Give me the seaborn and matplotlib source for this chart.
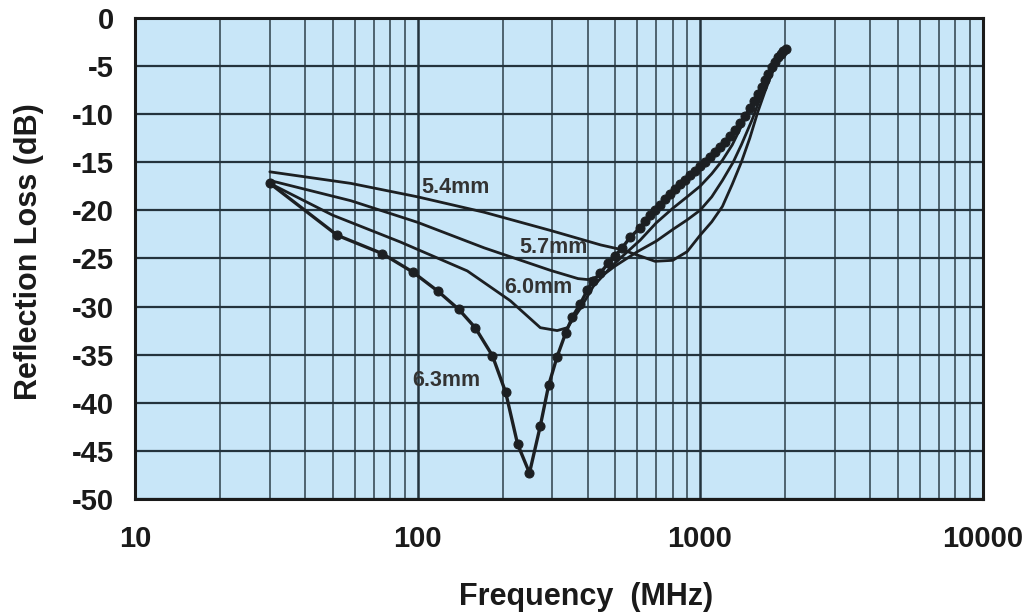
import matplotlib
matplotlib.use("Agg")
import matplotlib.pyplot as plt
import seaborn as sns
from matplotlib.ticker import FixedLocator, NullFormatter, FixedFormatter

# curve data (frequency in MHz, reflection loss in dB)
f_63 = [30, 52, 75, 96, 118, 140, 160, 184, 205, 226, 249, 272, 291, 312, 334,
        353, 377, 399, 419, 444, 473, 501, 530, 566, 614, 639, 666, 693, 722,
        752, 783, 816, 850, 885, 922, 960, 1000, 1042, 1084, 1130, 1178, 1227,
        1277, 1330, 1385, 1442, 1503, 1552, 1603, 1656, 1698, 1740, 1796, 1842,
        1887, 1933, 1964, 2007]
rl_63 = [-17.2, -22.6, -24.5, -26.4, -28.4, -30.3, -32.2, -35.1, -38.9, -44.3,
         -47.3, -42.4, -38.2, -35.2, -32.8, -31.1, -29.7, -28.3, -27.3, -26.5,
         -25.5, -24.7, -23.9, -22.8, -21.8, -21.15, -20.5, -19.95, -19.4,
         -18.85, -18.3, -17.8, -17.3, -16.8, -16.35, -15.9, -15.4, -14.95,
         -14.5, -13.95, -13.45, -12.85, -12.3, -11.65, -10.95, -10.2, -9.4,
         -8.65, -7.9, -7.2, -6.45, -5.8, -5.1, -4.6, -4.05, -3.75, -3.45, -3.25]

f_60 = [30, 50, 87, 150, 213, 272, 312, 339, 377, 419, 473, 530, 614, 700, 800,
        900, 1000, 1100, 1200, 1300, 1470, 1600, 1750, 1900, 2000]
rl_60 = [-17.2, -20.5, -23.3, -26.3, -29.4, -32.2, -32.5, -32.2, -30.2, -27.9,
         -26.2, -24.8, -23.1, -21.3, -19.8, -18.6, -17.5, -16.2, -14.8, -13.2,
         -10.0, -7.8, -5.7, -4.2, -3.5]

f_57 = [30, 58, 100, 172, 296, 370, 400, 450, 500, 600, 700, 800, 900, 1000,
        1100, 1200, 1310, 1400, 1528, 1650, 1800, 1900, 2000]
rl_57 = [-16.9, -19.0, -21.25, -23.9, -26.25, -27.1, -27.2, -26.8, -25.8, -24.3,
         -23.2, -22.0, -21.0, -20.0, -18.6, -16.9, -15.0, -13.2, -10.6, -8.0,
         -5.6, -4.4, -3.5]

f_54 = [30, 58, 100, 172, 296, 445, 530, 620, 693, 800, 900, 1000, 1100, 1200,
        1300, 1400, 1500, 1600, 1700, 1800, 1900, 2000]
rl_54 = [-16.0, -17.2, -18.6, -20.2, -22.1, -23.6, -24.1, -24.8, -25.3, -25.2,
         -24.3, -22.6, -21.2, -19.6, -17.3, -15.0, -12.5, -9.8, -7.6, -5.7, -4.4, -3.6]

# label positions (freq, dB)
labels = ["5.4mm", "5.7mm", "6.0mm", "6.3mm"]
label_f = [136, 302, 268, 126]
label_rl = [-17.6, -23.85, -28.0, -37.7]

x_ticks = [10, 100, 1000, 10000]
x_ticklabels = ["10", "100", "1000", "10000"]
y_ticks = list(range(-50, 1, 5))

sns.set_style("white")
plt.rcParams['font.family'] = ['Liberation Sans', 'DejaVu Sans']

fig = plt.figure(figsize=(10.31, 6.16), dpi=100)
ax = fig.add_axes([0.131, 0.19, 0.822, 0.781])
ax.set_facecolor('#c8e6f8')

line_col = '#1c1f22'
for fx, ry in [(f_54, rl_54), (f_57, rl_57), (f_60, rl_60)]:
    sns.lineplot(x=fx, y=ry, ax=ax, color=line_col, lw=2, estimator=None, sort=False)
sns.lineplot(x=f_63, y=rl_63, ax=ax, color=line_col, lw=2.4, estimator=None,
             sort=False, marker='o', markersize=6.5, markeredgecolor=line_col)

for t, fx, ry in zip(labels, label_f, label_rl):
    ax.text(fx, ry, t, ha='center', va='center', fontsize=15.5,
            fontweight='bold', color='#333333')

ax.set_xscale('log')
ax.set_xlim(10, 10000)
ax.set_ylim(-50, 0)
ax.xaxis.set_major_locator(FixedLocator(x_ticks))
ax.xaxis.set_major_formatter(FixedFormatter(x_ticklabels))
minor = [m * d for d in [10, 100, 1000] for m in range(2, 10)]
ax.xaxis.set_minor_locator(FixedLocator(minor))
ax.xaxis.set_minor_formatter(NullFormatter())
ax.set_yticks(y_ticks)
ax.set_yticklabels([str(v) for v in y_ticks])

ax.grid(which='major', axis='x', color='#24333d', lw=1.8)
ax.grid(which='minor', axis='x', color='#2e3f4a', lw=1.1)
ax.grid(which='major', axis='y', color='#24333d', lw=1.6)
ax.set_axisbelow(True)

ax.tick_params(axis='both', which='both', length=0)
ax.tick_params(axis='x', pad=19, labelsize=21)
ax.tick_params(axis='y', pad=15, labelsize=21)
for lab in ax.get_xticklabels() + ax.get_yticklabels():
    lab.set_fontweight('bold')
    lab.set_color('#1a1a1a')

for s in ax.spines.values():
    s.set_visible(True)
    s.set_color('#1a1a1a')
    s.set_linewidth(2.2)

ax.set_xlabel('Frequency  (MHz)', fontsize=22, fontweight='bold', color='#1a1a1a')
ax.set_ylabel('Reflection Loss (dB)', fontsize=22, fontweight='bold', color='#1a1a1a')
ax.xaxis.set_label_coords(0.532, -0.172)
ax.yaxis.set_label_coords(-0.107, 0.515)

fig.savefig('out.png', dpi=100)
